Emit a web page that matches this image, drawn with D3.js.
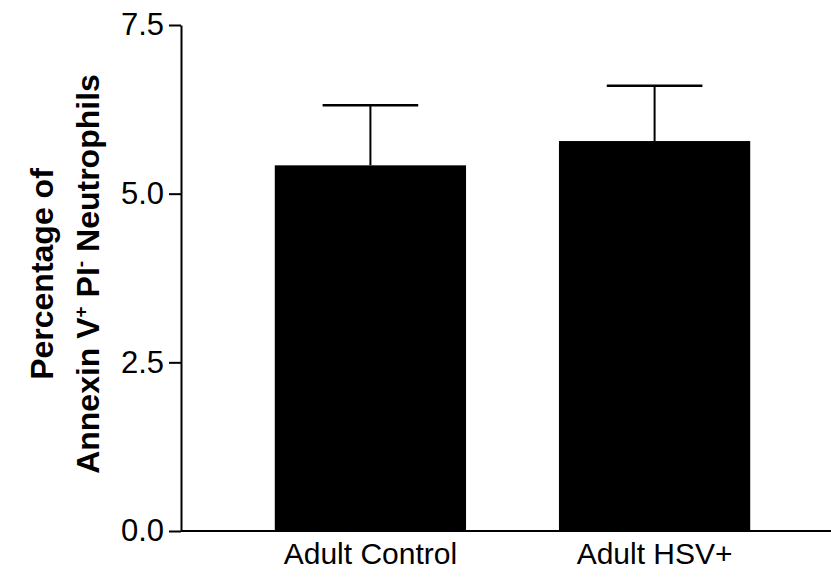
<!DOCTYPE html>
<html>
<head>
<meta charset="utf-8">
<script src="https://cdn.jsdelivr.net/npm/d3@7"></script>
<style>
	body { margin: 0; background: #fff; }
	svg text { font-family: Arial, "Liberation Sans", sans-serif; fill: #000; }
</style>
</head>
<body>
<script>
// values
const groups = ["Adult Control", "Adult HSV+"];
const means = [5.42, 5.78];
const sems = [0.89, 0.82];
const yTicks = [0, 2.5, 5.0, 7.5];

let width = 831;
let height = 578;

let svg = d3.select("body").append("svg")
	.attr("width", width)
	.attr("height", height);

let x = d3.scaleBand()
	.domain(groups)
	.range([181, 844])
	.paddingInner(0.327)
	.paddingOuter(0.33);

let y = d3.scaleLinear()
	.domain([0, 7.5])
	.range([531, 25]);

let rows = groups.map((g, i) => ({ group: g, mean: means[i], sem: sems[i] }));

// error bars (upper only), drawn under the bars
let err = svg.append("g").attr("class", "errors");
err.selectAll(".stem")
	.data(rows)
	.enter().append("line")
	.attr("x1", d => x(d.group) + x.bandwidth() / 2)
	.attr("x2", d => x(d.group) + x.bandwidth() / 2)
	.attr("y1", d => y(d.mean))
	.attr("y2", d => y(d.mean + d.sem))
	.attr("stroke", "#000")
	.attr("stroke-width", 2);
err.selectAll(".cap")
	.data(rows)
	.enter().append("line")
	.attr("x1", d => x(d.group) + x.bandwidth() / 2 - x.bandwidth() / 4)
	.attr("x2", d => x(d.group) + x.bandwidth() / 2 + x.bandwidth() / 4)
	.attr("y1", d => y(d.mean + d.sem))
	.attr("y2", d => y(d.mean + d.sem))
	.attr("stroke", "#000")
	.attr("stroke-width", 2.5);

svg.append("g")
	.selectAll("rect")
	.data(rows)
	.enter().append("rect")
	.attr("x", d => x(d.group))
	.attr("y", d => y(d.mean))
	.attr("width", x.bandwidth())
	.attr("height", d => y(0) - y(d.mean))
	.attr("fill", "#000");

// y axis
let yAxis = svg.append("g")
	.attr("transform", "translate(181,0)")
	.call(d3.axisLeft(y)
		.tickValues(yTicks)
		.tickFormat(d3.format(".1f"))
		.tickSize(12)
		.tickSizeOuter(0)
		.tickPadding(5));
yAxis.selectAll("line, path").attr("stroke", "#000").attr("stroke-width", 2);
yAxis.selectAll("text").style("font-size", "31px").attr("fill", "#000");

// x axis
let xAxis = svg.append("g")
	.attr("transform", "translate(0,531)")
	.call(d3.axisBottom(x).tickSize(0).tickSizeOuter(0).tickPadding(12));
xAxis.select("path").attr("d", "M181,0H831").attr("stroke", "#000").attr("stroke-width", 2);
xAxis.selectAll("text").style("font-size", "30px").attr("fill", "#000");

// y title, two lines
let title = svg.append("text")
	.attr("transform", "translate(0,274) rotate(-90)")
	.attr("text-anchor", "middle")
	.style("font-size", "32px")
	.style("font-weight", "bold");
title.append("tspan")
	.attr("x", 0).attr("y", 53)
	.text("Percentage of");
title.append("tspan")
	.attr("x", 0).attr("y", 99)
	.text("Annexin V");
title.append("tspan").attr("dy", -12).style("font-size", "19px").text("+");
title.append("tspan").attr("dy", 12).text(" PI");
title.append("tspan").attr("dy", -12).style("font-size", "19px").text("-");
title.append("tspan").attr("dy", 12).text(" Neutrophils");
</script>
</body>
</html>
